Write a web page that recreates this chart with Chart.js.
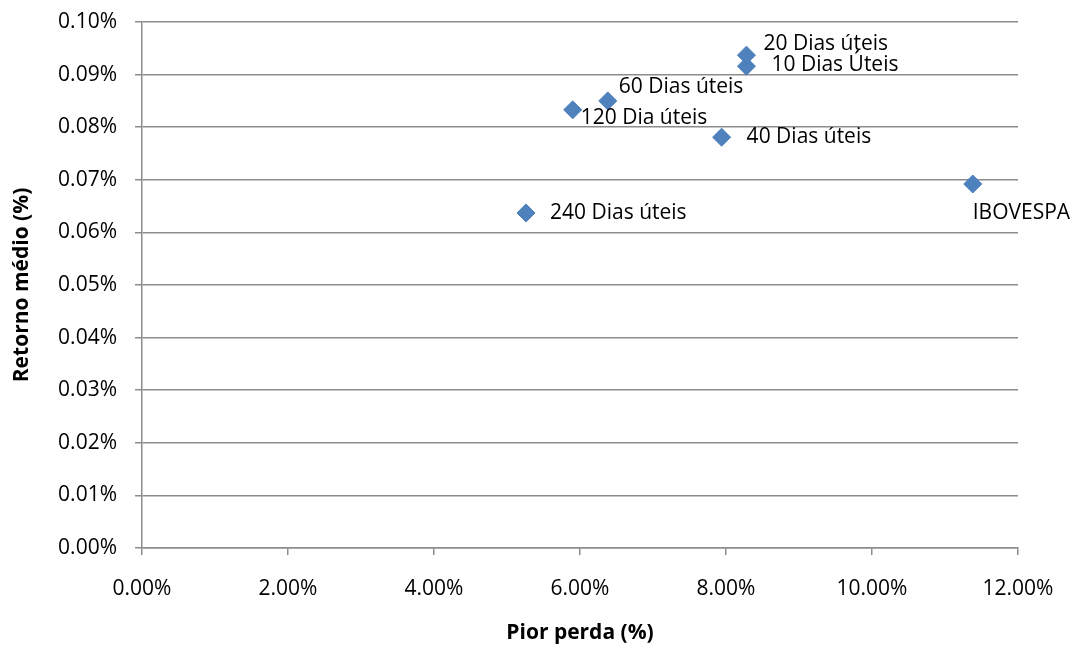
<!DOCTYPE html>
<html>
<head>
<meta charset="utf-8">
<script src="https://cdn.jsdelivr.net/npm/chart.js@4/dist/chart.umd.min.js"></script>
<style>
  html, body { margin: 0; padding: 0; background: #ffffff; }
  #wrap { width: 1083px; height: 651px; position: relative; }
  canvas { display: block; }
</style>
</head>
<body>
<div id="wrap"><canvas id="c" width="1083" height="651"></canvas></div>
<script>
// Janelas de rebalanceamento e o índice de referência
const labels = ['10 Dias Úteis', '20 Dias úteis', '40 Dias úteis', '60 Dias úteis', '120 Dia úteis', '240 Dias úteis', 'IBOVESPA'];
// Pior perda (%)
const piorPerda = [8.28, 8.28, 7.94, 6.38, 5.90, 5.26, 11.38];
// Retorno médio (%)
const retornoMedio = [0.0916, 0.0937, 0.0781, 0.0850, 0.0833, 0.0637, 0.0692];

// Deslocamento de cada rótulo em relação ao seu ponto (px)
const labelOffsets = [[25, -1], [17, -11], [25, 0], [11, -14], [8, 8], [24, 0], [0, 29]];

const FONT = '"Open Sans", "DejaVu Sans", sans-serif';

const pointLabels = {
  id: 'pointLabels',
  afterDatasetsDraw(chart) {
    const { ctx, scales } = chart;
    ctx.save();
    ctx.font = '21px ' + FONT;
    ctx.fillStyle = '#000000';
    ctx.textBaseline = 'middle';
    ctx.textAlign = 'left';
    labels.forEach((name, i) => {
      const px = scales.x.getPixelForValue(piorPerda[i]);
      const py = scales.y.getPixelForValue(retornoMedio[i]);
      ctx.fillText(name, px + labelOffsets[i][0], py + labelOffsets[i][1]);
    });
    ctx.restore();
  }
};

new Chart(document.getElementById('c'), {
  type: 'scatter',
  data: {
    datasets: [{
      data: piorPerda.map((x, i) => ({ x, y: retornoMedio[i] })),
      pointStyle: 'rectRot',
      pointRadius: 9,
      pointHoverRadius: 9,
      backgroundColor: '#4F81BD',
      borderColor: '#4A7EBB',
      borderWidth: 1
    }]
  },
  options: {
    responsive: false,
    maintainAspectRatio: false,
    animation: false,
    devicePixelRatio: 1,
    layout: { autoPadding: false, padding: { left: 0, right: 65, top: 22, bottom: 0 } },
    plugins: { legend: { display: false }, tooltip: { enabled: false } },
    scales: {
      x: {
        type: 'linear',
        min: 0, max: 12,
        ticks: {
          stepSize: 2,
          padding: 21,
          color: '#000000',
          font: { family: FONT, size: 21 },
          callback: v => v.toFixed(2) + '%'
        },
        grid: {
          drawOnChartArea: false,
          drawTicks: true,
          tickLength: 7,
          color: '#8c8c8c',
          lineWidth: 1.5
        },
        border: { color: '#8c8c8c', width: 1.5 },
        title: {
          display: true,
          text: 'Pior perda (%)',
          color: '#000000',
          font: { family: FONT, size: 21, weight: 'bold' },
          padding: { top: 0, bottom: 5 }
        },
        afterFit(scale) {
          scale.height = 103;
          scale.paddingLeft = 0;
          scale.paddingRight = 0;
        }
      },
      y: {
        type: 'linear',
        min: 0, max: 0.1,
        ticks: {
          stepSize: 0.01,
          padding: 18,
          color: '#000000',
          font: { family: FONT, size: 21 },
          callback: v => v.toFixed(2) + '%'
        },
        grid: {
          drawOnChartArea: true,
          drawTicks: true,
          tickLength: 7,
          color: '#8c8c8c',
          lineWidth: 1.5
        },
        border: { color: '#8c8c8c', width: 1.5 },
        title: {
          display: true,
          text: 'Retorno médio (%)',
          color: '#000000',
          font: { family: FONT, size: 21, weight: 'bold' },
          padding: { top: 9, bottom: 0 }
        },
        afterFit(scale) {
          scale.width = 142;
          scale.paddingTop = 0;
          scale.paddingBottom = 0;
        }
      }
    }
  },
  plugins: [pointLabels]
});
</script>
</body>
</html>
